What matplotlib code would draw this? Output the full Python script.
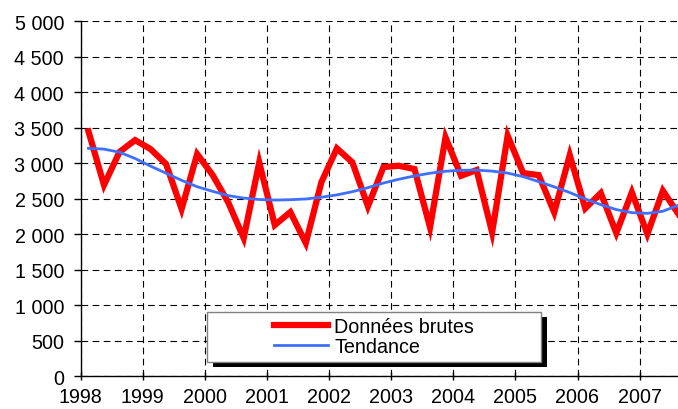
import numpy as np
import matplotlib
matplotlib.use("Agg")
import matplotlib.pyplot as plt
from matplotlib.patches import Rectangle
from matplotlib.ticker import FuncFormatter, MultipleLocator

plt.rcParams['font.family'] = ['Liberation Sans', 'DejaVu Sans']

# donnees trimestrielles, 1998 T1 -> 2007 T3
debut = 1998.125
pas = 0.25
brutes = [3450, 2694, 3160, 3327, 3200, 2989, 2356, 3130, 2834, 2450,
          1947, 3013, 2130, 2313, 1877, 2732, 3210, 3013, 2394, 2947,
          2965, 2919, 2098, 3365, 2824, 2905, 2027, 3388, 2862, 2834,
          2309, 3116, 2365, 2581, 2018, 2591, 2004, 2613, 2285]
tendance = [3210, 3200, 3156, 3068, 2960, 2860, 2760, 2670, 2605, 2545,
            2510, 2490, 2482, 2487, 2498, 2522, 2555, 2600, 2657, 2722,
            2776, 2822, 2860, 2888, 2902, 2904, 2890, 2862, 2812, 2742,
            2668, 2588, 2498, 2418, 2348, 2305, 2295, 2325, 2410]
annees = list(range(1998, 2008))

x = debut + pas * np.arange(len(brutes))

W, H = 678, 410
fig = plt.figure(figsize=(W / 100, H / 100), dpi=100)
ax = fig.add_axes([80.7 / W, 1 - 377.3 / H, (W - 80.7) / W, (377.3 - 22.3) / H])

ax.plot(x, brutes, color='#ff0000', lw=4.5, solid_joinstyle='miter', label='Données brutes', zorder=3)
ax.plot(x, tendance, color='#3f6fff', lw=2, label='Tendance', zorder=4)

ax.set_xlim(1998, 1998 + (W - 80.7) / 62.1)
ax.set_ylim(0, 5000)
ax.set_xticks(annees)
ax.yaxis.set_major_locator(MultipleLocator(500))
ax.yaxis.set_major_formatter(FuncFormatter(lambda v, p: f"{int(v):,}".replace(",", " ")))

ax.grid(True, color='black', lw=0.8, linestyle=(0, (6, 4)))
ax.set_axisbelow(True)
for s in ['top', 'right']:
    ax.spines[s].set_visible(False)
ax.spines['left'].set_linewidth(1)
ax.spines['bottom'].set_linewidth(1)

ax.tick_params(axis='y', direction='out', length=5, width=1, pad=7, labelsize=14.2)
ax.tick_params(axis='x', direction='inout', length=6, width=1, pad=5, labelsize=14.2)

# cadre de legende avec ombre noire
bx0, bx1, by0, by1 = 207.3, 541, 312.7, 362.7
ombre = Rectangle(((bx0 + 6) / W, 1 - (by1 + 5) / H), (bx1 - bx0) / W, (by1 - by0) / H,
                  transform=fig.transFigure, facecolor='black', edgecolor='none',
                  zorder=5, clip_on=False)
cadre = Rectangle((bx0 / W, 1 - by1 / H), (bx1 - bx0) / W, (by1 - by0) / H,
                  transform=fig.transFigure, facecolor='white', edgecolor='#808080',
                  lw=1, zorder=5.5, clip_on=False)
ax.add_patch(ombre)
ax.add_patch(cadre)

leg = ax.legend(loc='center', bbox_to_anchor=((bx0 + bx1) / 2 / W, 1 - (by0 + by1) / 2 / H),
                bbox_transform=fig.transFigure, frameon=False, fontsize=14.2,
                handlelength=2.75, handletextpad=0.3, labelspacing=0.05, borderpad=0)
leg.set_zorder(6)

fig.savefig('out.png', dpi=100)
